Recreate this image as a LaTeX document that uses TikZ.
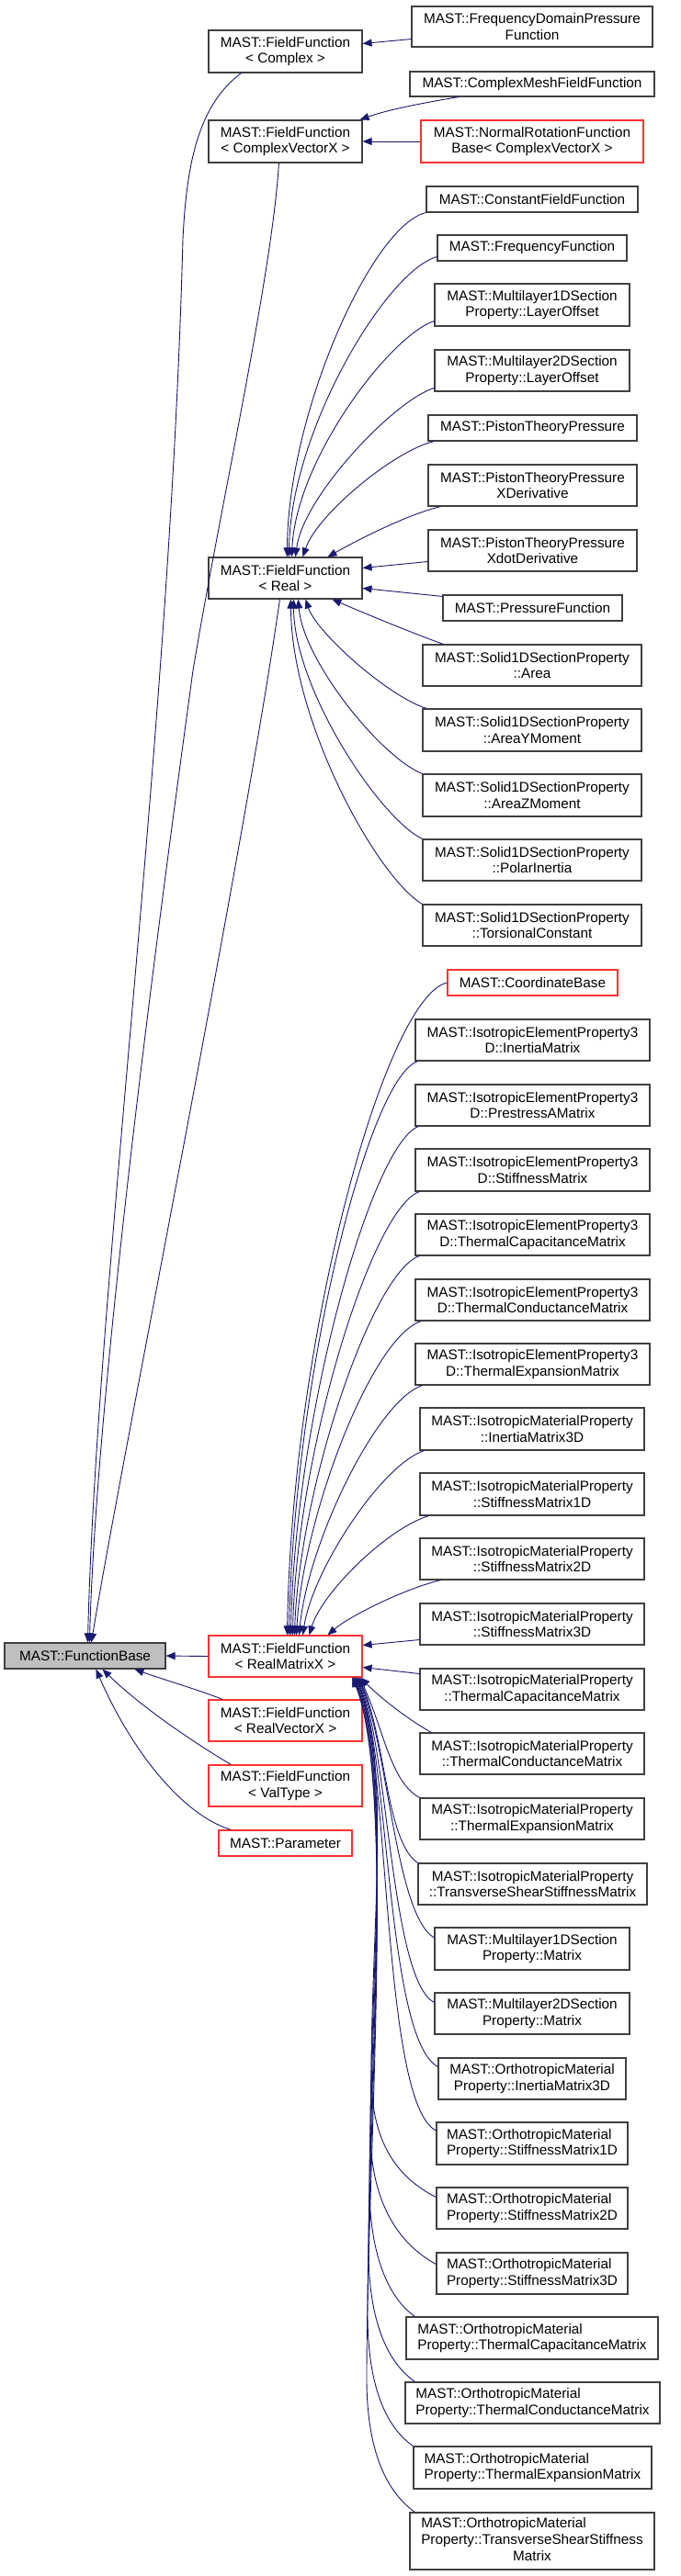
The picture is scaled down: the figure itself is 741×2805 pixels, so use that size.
\documentclass[tikz,border=0pt]{standalone}
\usepackage{fontspec}
\setmainfont{Liberation Sans}
\usetikzlibrary{arrows.meta,calc}
\definecolor{edgeblue}{RGB}{25,25,112}
\definecolor{boxgray}{RGB}{64,64,64}
\definecolor{boxred}{RGB}{255,50,50}
\definecolor{fbfill}{RGB}{191,191,191}
\begin{document}
\begin{tikzpicture}[x=1pt,y=-1pt,
  box/.style={draw=boxgray,line width=1.1pt,fill=white,inner sep=0pt,align=center,
    font=\fontsize{15.3}{17.7}\selectfont,minimum height=46pt},
  onel/.style={box,minimum height=28pt},
  rbox/.style={box,draw=boxred},
  ronel/.style={onel,draw=boxred},
  edge/.style={draw=edgeblue,line width=0.9pt,-{Triangle[length=10pt,width=8pt]}}]
\useasboundingbox (0,0) rectangle (741,2805);

% left column
\node[onel,fill=fbfill,minimum width=175pt] (fb) at (92.5,1803) {MAST::FunctionBase};
\node[box,minimum width=167pt] (cplx) at (310.5,56) {MAST::FieldFunction\\< Complex >};
\node[box,minimum width=167pt] (cvx) at (310.5,154) {MAST::FieldFunction\\< ComplexVectorX >};
\node[box,minimum width=167pt,minimum height=45pt] (real) at (310.5,629.5) {MAST::FieldFunction\\< Real >};
\node[rbox,minimum width=167pt,minimum height=45pt] (rmx) at (310.5,1803.5) {MAST::FieldFunction\\< RealMatrixX >};
\node[rbox,minimum width=167pt,minimum height=45pt] (rvx) at (310.5,1873.5) {MAST::FieldFunction\\< RealVectorX >};
\node[rbox,minimum width=167pt,minimum height=45pt] (vt) at (310.5,1944.5) {MAST::FieldFunction\\< ValType >};
\node[ronel,minimum width=145pt] (par) at (310.5,2007) {MAST::Parameter};

% right column: complex
\node[box,minimum width=262pt,minimum height=44pt] (fdp) at (579,29) {MAST::FrequencyDomainPressure\\Function};
\node[onel,minimum width=266pt,minimum height=27pt] (cmff) at (579,91.5) {MAST::ComplexMeshFieldFunction};
\node[rbox,minimum width=242pt] (nrf) at (579,154) {MAST::NormalRotationFunction\\Base< ComplexVectorX >};

% right column: real
\node[onel,minimum width=230pt] (const) at (579,217) {MAST::ConstantFieldFunction};
\node[onel,minimum width=206pt] (freq) at (579,270) {MAST::FrequencyFunction};
\node[box,minimum width=212pt] (ml1lo) at (579,332) {MAST::Multilayer1DSection\\Property::LayerOffset};
\node[box,minimum width=212pt,minimum height=45pt] (ml2lo) at (579,403.5) {MAST::Multilayer2DSection\\Property::LayerOffset};
\node[onel,minimum width=227pt] (ptp) at (579.5,466) {MAST::PistonTheoryPressure};
\node[box,minimum width=227pt,minimum height=45pt] (ptx) at (579.5,528.5) {MAST::PistonTheoryPressure\\XDerivative};
\node[box,minimum width=227pt,minimum height=45pt] (ptxd) at (579.5,599.5) {MAST::PistonTheoryPressure\\XdotDerivative};
\node[onel,minimum width=195pt] (pf) at (579.5,662) {MAST::PressureFunction};
\node[box,minimum width=238pt,minimum height=45pt] (sa) at (579,724.5) {MAST::Solid1DSectionProperty\\::Area};
\node[box,minimum width=238pt] (say) at (579,795) {MAST::Solid1DSectionProperty\\::AreaYMoment};
\node[box,minimum width=238pt] (saz) at (579,866) {MAST::Solid1DSectionProperty\\::AreaZMoment};
\node[box,minimum width=238pt,minimum height=45pt] (spi) at (579,936.5) {MAST::Solid1DSectionProperty\\::PolarInertia};
\node[box,minimum width=238pt,minimum height=45pt] (stc) at (579,1007.5) {MAST::Solid1DSectionProperty\\::TorsionalConstant};

% right column: matrix
\node[ronel,minimum width=185pt] (cb) at (579.5,1070) {MAST::CoordinateBase};
\node[box,minimum width=255pt,minimum height=45pt] (ie1) at (579.5,1132.5) {MAST::IsotropicElementProperty3\\D::InertiaMatrix};
\node[box,minimum width=255pt,minimum height=45pt] (ie2) at (579.5,1203.5) {MAST::IsotropicElementProperty3\\D::PrestressAMatrix};
\node[box,minimum width=255pt] (ie3) at (579.5,1274) {MAST::IsotropicElementProperty3\\D::StiffnessMatrix};
\node[box,minimum width=255pt,minimum height=45pt] (ie4) at (579.5,1344.5) {MAST::IsotropicElementProperty3\\D::ThermalCapacitanceMatrix};
\node[box,minimum width=255pt,minimum height=45pt] (ie5) at (579.5,1415.5) {MAST::IsotropicElementProperty3\\D::ThermalConductanceMatrix};
\node[box,minimum width=255pt,minimum height=45pt] (ie6) at (579.5,1485.5) {MAST::IsotropicElementProperty3\\D::ThermalExpansionMatrix};
\node[box,minimum width=244pt] (im1) at (579,1556) {MAST::IsotropicMaterialProperty\\::InertiaMatrix3D};
\node[box,minimum width=244pt] (im2) at (579,1627) {MAST::IsotropicMaterialProperty\\::StiffnessMatrix1D};
\node[box,minimum width=244pt,minimum height=45pt] (im3) at (579,1697.5) {MAST::IsotropicMaterialProperty\\::StiffnessMatrix2D};
\node[box,minimum width=244pt,minimum height=45pt] (im4) at (579,1768.5) {MAST::IsotropicMaterialProperty\\::StiffnessMatrix3D};
\node[box,minimum width=244pt,minimum height=45pt] (im5) at (579,1839.5) {MAST::IsotropicMaterialProperty\\::ThermalCapacitanceMatrix};
\node[box,minimum width=244pt,minimum height=45pt] (im6) at (579,1909.5) {MAST::IsotropicMaterialProperty\\::ThermalConductanceMatrix};
\node[box,minimum width=244pt,minimum height=45pt] (im7) at (579,1980.5) {MAST::IsotropicMaterialProperty\\::ThermalExpansionMatrix};
\node[box,minimum width=249pt,minimum height=45pt] (im8) at (579.5,2051.5) {MAST::IsotropicMaterialProperty\\::TransverseShearStiffnessMatrix};
\node[box,minimum width=212pt] (ml1m) at (579,2122) {MAST::Multilayer1DSection\\Property::Matrix};
\node[box,minimum width=212pt,minimum height=45pt] (ml2m) at (579,2192.5) {MAST::Multilayer2DSection\\Property::Matrix};
\node[box,minimum width=204pt,minimum height=45pt] (om1) at (579,2263.5) {MAST::OrthotropicMaterial\\Property::InertiaMatrix3D};
\node[box,align=left,minimum width=208pt] (om2) at (579,2334) {MAST::OrthotropicMaterial\\Property::StiffnessMatrix1D};
\node[box,align=left,minimum width=208pt,minimum height=45pt] (om3) at (579,2404.5) {MAST::OrthotropicMaterial\\Property::StiffnessMatrix2D};
\node[box,align=left,minimum width=208pt,minimum height=45pt] (om4) at (579,2475.5) {MAST::OrthotropicMaterial\\Property::StiffnessMatrix3D};
\node[box,align=left,minimum width=274pt] (om5) at (579,2546) {MAST::OrthotropicMaterial\\Property::ThermalCapacitanceMatrix};
\node[box,align=left,minimum width=277pt,minimum height=45pt] (om6) at (579.5,2616.5) {MAST::OrthotropicMaterial\\Property::ThermalConductanceMatrix};
\node[box,align=left,minimum width=259pt] (om7) at (579.5,2687) {MAST::OrthotropicMaterial\\Property::ThermalExpansionMatrix};
\node[box,minimum width=266pt,minimum height=62pt] (om8) at (579,2767) {\begin{tabular}{@{}l@{}}MAST::OrthotropicMaterial\\Property::TransverseShearStiffness\\\multicolumn{1}{@{}c@{}}{Matrix}\end{tabular}};

% edges to FunctionBase
\draw[edge] ($(cplx.south west)+(36,0)$) .. controls (215,115) and (203,180) .. (199,260)
  .. controls (185,800) and (105,1400) .. ($(fb.north west)+(91,0)$);
\draw[edge] ($(cvx.south west)+(77,0)$) .. controls (296,300) and (240,550) .. (210,730)
  .. controls (180,950) and (105,1500) .. ($(fb.north west)+(93,0)$);
\draw[edge] ($(real.south west)+(78,0)$) .. controls (265,930) and (130,1600) .. ($(fb.north west)+(95,0)$);
\draw[edge] (rmx.west) -- (fb.east);
\draw[edge] ($(rvx.north west)+(16,0)$) .. controls (210,1838) and (175,1828) .. ($(fb.south west)+(142,0)$);
\draw[edge] ($(vt.north west)+(25,0)$) .. controls (215,1900) and (155,1860) .. ($(fb.south west)+(107,0)$);
\draw[edge] ($(par.north west)+(14,0)$) .. controls (195,1975) and (140,1900) .. ($(fb.south west)+(100,0)$);

% complex group
\draw[edge] ($(fdp.south west)+(0,-9)$) -- ($(cplx.north east)+(0,15)$);
\draw[edge] ($(cmff.south west)+(54,0)$) .. controls (460,112) and (420,120) .. ($(cvx.north east)+(-3,0)$);
\draw[edge] (nrf.west) -- (cvx.east);

% real group
\draw[edge] (const.south west) .. controls (405,245) and (313,450) .. ($(real.north west)+(86,0)$);
\draw[edge] ($(freq.south west)+(0,-5)$) .. controls (420,295) and (316,470) .. ($(real.north west)+(88,0)$);
\draw[edge] ($(ml1lo.south west)+(0,-6)$) .. controls (425,365) and (322,500) .. ($(real.north west)+(91,0)$);
\draw[edge] ($(ml2lo.south west)+(0,-4)$) .. controls (430,435) and (330,540) .. ($(real.north west)+(95,0)$);
\draw[edge] ($(ptp.south west)+(7,0)$) .. controls (430,490) and (345,560) .. ($(real.north west)+(103,0)$);
\draw[edge] ($(ptx.south west)+(14,0)$) .. controls (440,561) and (382,592) .. ($(real.north west)+(130,0)$);
\draw[edge] ($(ptxd.west)+(0,12)$) -- ($(real.east)+(0,-11)$);
\draw[edge] ($(pf.north west)+(0,2)$) -- ($(real.east)+(0,11)$);
\draw[edge] ($(sa.north west)+(23,0)$) .. controls (450,690) and (390,665) .. ($(real.south west)+(135,0)$);
\draw[edge] ($(say.north west)+(5,0)$) .. controls (425,760) and (345,690) .. ($(real.south west)+(106,0)$);
\draw[edge] (saz.north west) .. controls (415,825) and (330,720) .. ($(real.south west)+(98,0)$);
\draw[edge] (spi.north west) .. controls (412,890) and (320,750) .. ($(real.south west)+(93,0)$);
\draw[edge] (stc.north west) .. controls (410,955) and (317,786) .. ($(real.south west)+(90,0)$);

% matrix group, top
\draw[edge] (cb.west) .. controls (420,1085) and (318,1450) .. ($(rmx.north west)+(86,0)$);
\draw[edge] ($(ie1.south west)+(3,0)$) .. controls (400,1175) and (320,1500) .. ($(rmx.north west)+(88,0)$);
\draw[edge] ($(ie2.south west)+(4,0)$) .. controls (405,1245) and (321,1540) .. ($(rmx.north west)+(90,0)$);
\draw[edge] ($(ie3.south west)+(5,0)$) .. controls (405,1315) and (323,1580) .. ($(rmx.north west)+(92,0)$);
\draw[edge] ($(ie4.south west)+(5,0)$) .. controls (405,1385) and (326,1620) .. ($(rmx.north west)+(94,0)$);
\draw[edge] ($(ie5.south west)+(7,0)$) .. controls (405,1455) and (330,1650) .. ($(rmx.north west)+(96,0)$);
\draw[edge] ($(ie6.south west)+(8,0)$) .. controls (410,1525) and (335,1680) .. ($(rmx.north west)+(99,0)$);
\draw[edge] ($(im1.south west)+(5,0)$) .. controls (415,1595) and (340,1710) .. ($(rmx.north west)+(103,0)$);
\draw[edge] ($(im2.south west)+(10,0)$) .. controls (420,1665) and (350,1735) .. ($(rmx.north west)+(110,0)$);
\draw[edge] ($(im3.south west)+(23,0)$) .. controls (440,1730) and (380,1760) .. ($(rmx.north west)+(130,0)$);
\draw[edge] ($(im4.west)+(0,17)$) -- ($(rmx.east)+(0,-12)$);
\draw[edge] ($(im5.west)+(0,-17)$) -- ($(rmx.east)+(0,12)$);

% matrix group, bottom
\draw[edge] ($(im6.north west)+(13,0)$) .. controls (440,1870) and (410,1845) .. ($(rmx.south west)+(166,0)$);
\draw[edge] (im7.north west) .. controls (425,1940) and (418,1885) .. ($(rmx.south west)+(165,0)$);
\draw[edge] (im8.north west) .. controls (420,2005) and (420,1895) .. ($(rmx.south west)+(164,0)$);
\draw[edge] ($(ml1m.west)+(0,-12)$) .. controls (430,2085) and (422,1900) .. ($(rmx.south west)+(163,0)$);
\draw[edge] ($(ml2m.west)+(0,-12)$) .. controls (425,2155) and (423,1905) .. ($(rmx.south west)+(162,0)$);
\draw[edge] ($(om1.west)+(0,-13)$) .. controls (420,2220) and (424,1910) .. ($(rmx.south west)+(161,0)$);
\draw[edge] ($(om2.west)+(0,-14)$) .. controls (415,2290) and (425,1915) .. ($(rmx.south west)+(160,0)$);
\draw[edge] ($(om3.west)+(0,-12)$) .. controls (430,2370) and (404,2330) .. (404,2260)
  .. controls (404,2100) and (426,1920) .. ($(rmx.south west)+(160,0)$);
\draw[edge] ($(om4.west)+(0,-10)$) .. controls (428,2440) and (403,2390) .. (403,2320)
  .. controls (403,2150) and (427,1925) .. ($(rmx.south west)+(159,0)$);
\draw[edge] ($(om5.north west)+(10,0)$) .. controls (420,2500) and (402,2450) .. (402,2380)
  .. controls (402,2200) and (428,1930) .. ($(rmx.south west)+(158,0)$);
\draw[edge] ($(om6.north west)+(11,0)$) .. controls (418,2570) and (401,2520) .. (401,2450)
  .. controls (401,2250) and (429,1935) .. ($(rmx.south west)+(158,0)$);
\draw[edge] (om7.north west) .. controls (416,2640) and (400,2590) .. (400,2520)
  .. controls (400,2300) and (430,1940) .. ($(rmx.south west)+(157,0)$);
\draw[edge] ($(om8.north west)+(6,0)$) .. controls (416,2710) and (399,2660) .. (399,2590)
  .. controls (399,2350) and (431,1945) .. ($(rmx.south west)+(157,0)$);
\end{tikzpicture}
\end{document}
